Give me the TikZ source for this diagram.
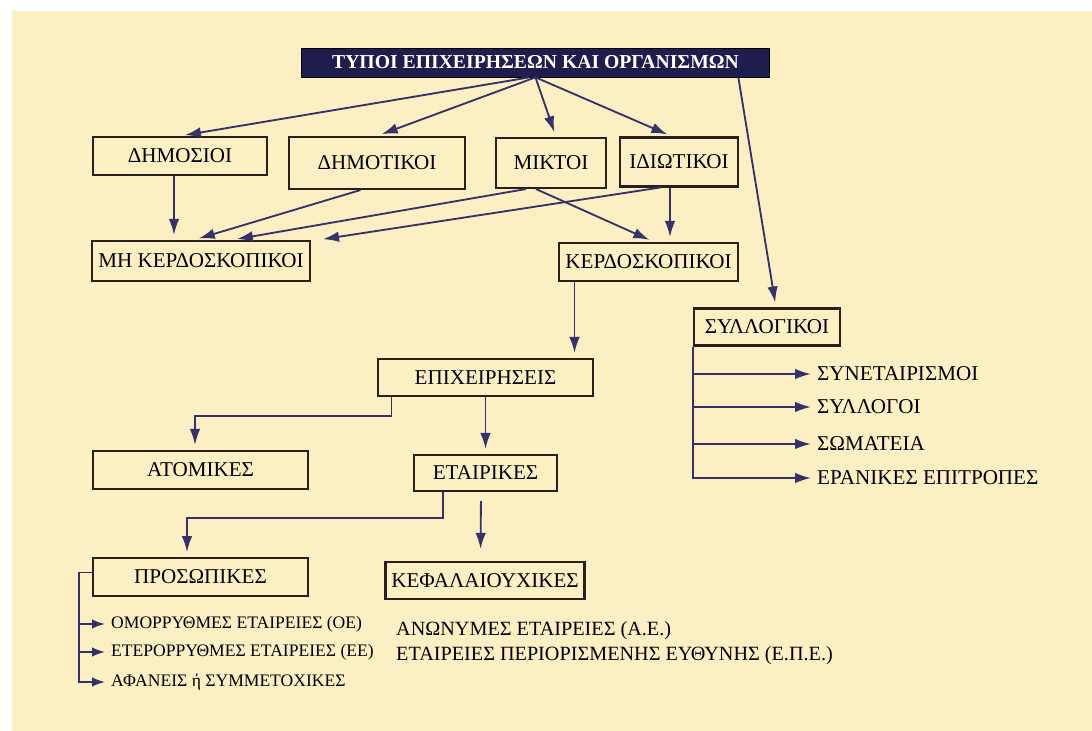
\documentclass[tikz,border=0pt]{standalone}
\usepackage{fontspec}
\setmainfont{Liberation Serif}
\usetikzlibrary{arrows.meta}

\definecolor{fundo}{RGB}{252,239,196}
\definecolor{azul}{RGB}{31,29,78}
\definecolor{linha}{RGB}{54,50,104}
\definecolor{borda}{RGB}{40,32,28}

\tikzset{
	caixa/.style={shape=rectangle, draw=borda, line width=1.2pt, align=center, font=\fontsize{12}{14}\selectfont},
	seta/.style={color=linha, line width=1.05pt},
	item/.style={anchor=west, font=\fontsize{12}{14}\selectfont},
	itempeq/.style={anchor=west, font=\fontsize{10}{12}\selectfont},
}

\begin{document}
\begin{tikzpicture}[>={Latex[length=3.2mm,width=2.1mm]}]
			\useasboundingbox (0,0) rectangle (21.84,-14.62);
			\fill[fundo] (0.24,-0.22) rectangle (21.84,-14.62);

			\node (z1)[shape=rectangle, draw=black, fill=azul, text=white, minimum width=9.36cm, minimum height=0.58cm, font=\bfseries\fontsize{11.2}{13}\selectfont]
			at (10.71,-1.25){ΤΥΠΟΙ ΕΠΙΧΕΙΡΗΣΕΩΝ ΚΑΙ ΟΡΓΑΝΙΣΜΩΝ};

			\node (z2)[caixa, minimum width=3.48cm, minimum height=0.76cm] at (3.60,-3.12){ΔΗΜΟΣΙΟΙ};
			\node (z3)[caixa, minimum width=3.52cm, minimum height=1.04cm] at (7.54,-3.26){ΔΗΜΟΤΙΚΟΙ};
			\node (z4)[caixa, minimum width=2.20cm, minimum height=1.00cm] at (11.02,-3.26){ΜΙΚΤΟΙ};
			\node (z5)[caixa, minimum width=2.36cm, minimum height=0.98cm] at (13.58,-3.24){ΙΔΙΩΤΙΚΟΙ};

			\node (z6)[caixa, minimum width=4.36cm, minimum height=0.80cm] at (4.02,-5.22){ΜΗ ΚΕΡΔΟΣΚΟΠΙΚΟΙ};
			\node (z7)[caixa, minimum width=3.58cm, minimum height=0.76cm] at (12.97,-5.24){ΚΕΡΔΟΣΚΟΠΙΚΟΙ};
			\node (z8)[caixa, minimum width=2.92cm, minimum height=0.74cm] at (15.34,-6.54){ΣΥΛΛΟΓΙΚΟΙ};

			\node (z9)[caixa, minimum width=4.30cm, minimum height=0.74cm] at (9.71,-7.55){ΕΠΙΧΕΙΡΗΣΕΙΣ};
			\node (z10)[caixa, minimum width=4.30cm, minimum height=0.76cm] at (4.01,-9.40){ΑΤΟΜΙΚΕΣ};
			\node (z11)[caixa, minimum width=2.86cm, minimum height=0.72cm] at (9.71,-9.46){ΕΤΑΙΡΙΚΕΣ};
			\node (z12)[caixa, minimum width=4.30cm, minimum height=0.75cm] at (4.01,-11.54){ΠΡΟΣΩΠΙΚΕΣ};
			\node (z13)[caixa, minimum width=3.60cm, minimum height=0.74cm] at (9.70,-11.61){ΚΕΦΑΛΑΙΟΥΧΙΚΕΣ};

			% syllogikoi
			\node (t1)[item] at (16.22,-7.48){ΣΥΝΕΤΑΙΡΙΣΜΟΙ};
			\node (t2)[item] at (16.22,-8.14){ΣΥΛΛΟΓΟΙ};
			\node (t3)[item] at (16.22,-8.88){ΣΩΜΑΤΕΙΑ};
			\node (t4)[item] at (16.22,-9.56){ΕΡΑΝΙΚΕΣ ΕΠΙΤΡΟΠΕΣ};

			% prosopikes / kefalaiouxikes
			\node (t5)[itempeq] at (2.10,-12.48){ΟΜΟΡΡΥΘΜΕΣ ΕΤΑΙΡΕΙΕΣ (ΟΕ)};
			\node (t6)[itempeq] at (2.10,-13.04){ΕΤΕΡΟΡΡΥΘΜΕΣ ΕΤΑΙΡΕΙΕΣ (ΕΕ)};
			\node (t7)[itempeq] at (2.10,-13.64){ΑΦΑΝΕΙΣ ή ΣΥΜΜΕΤΟΧΙΚΕΣ};
			\node (t8)[item, font=\fontsize{11.5}{13}\selectfont] at (7.80,-12.62){ΑΝΩΝΥΜΕΣ ΕΤΑΙΡΕΙΕΣ (Α.Ε.)};
			\node (t9)[item, font=\fontsize{11.5}{13}\selectfont] at (7.80,-13.12){ΕΤΑΙΡΕΙΕΣ ΠΕΡΙΟΡΙΣΜΕΝΗΣ ΕΥΘΥΝΗΣ (Ε.Π.Ε.)};

			\path[->, seta, shorten >=0.1cm] ([xshift=-0.12cm]z1.south) edge (z2.north);
			\path[->, seta, shorten >=0.1cm] (z1.south) edge (z3.north);
			\path[->, seta, shorten >=0.1cm] (z1.south) edge ([xshift=0.1cm]z4.north);
			\path[->, seta, shorten >=0.1cm] (z1.south) edge ([xshift=-0.14cm]z5.north);
			\path[->, seta, shorten >=0.1cm] ([xshift=-0.63cm]z1.south east) edge ([xshift=0.18cm]z8.north);

			\path[->, seta, shorten >=0.1cm] ([xshift=-0.12cm]z2.south) edge ([xshift=-0.12cm]z2.south |- z6.north);
			\path[->, seta, shorten >=0.1cm] ([xshift=-0.33cm]z3.south) edge ([xshift=2.06cm]z6.north west);
			\path[->, seta, shorten >=0.1cm] ([xshift=-0.5cm]z4.south) edge ([xshift=2.82cm]z6.north west);
			\path[->, seta, shorten >=0.1cm] ([xshift=-0.38cm]z5.south) edge ([xshift=0.14cm]z6.north east);
			\path[->, seta, shorten >=0.1cm] ([xshift=-0.3cm]z4.south) edge ([xshift=1.92cm]z7.north west);
			\path[->, seta, shorten >=0.1cm] ([xshift=-0.18cm]z5.south) edge ([xshift=-0.18cm]z5.south |- z7.north);

			\path[->, seta, shorten >=0.1cm] ([xshift=-1.48cm]z7.south) edge ([xshift=-1.48cm]z7.south |- z9.north);
			\draw[->, seta, shorten >=0.1cm] ([xshift=0.29cm]z9.south west) -- ++(0,-0.38) -| ([xshift=-0.11cm]z10.north);
			\path[->, seta, shorten >=0.1cm] (z9.south) edge (z11.north);
			\draw[->, seta, shorten >=0.1cm] ([xshift=0.6cm]z11.south west) -- ++(0,-0.52) -| ([xshift=-0.27cm]z12.north);
			\path[->, seta, shorten <=0.18cm, shorten >=0.24cm] ([xshift=-0.09cm]z11.south) edge ([xshift=-0.09cm]z13.north);

			\draw[->, seta] (z8.south west) |- (t4.west);
			\path[->, seta] (z8.south west |- t1.west) edge (t1.west);
			\path[->, seta] (z8.south west |- t2.west) edge (t2.west);
			\path[->, seta] (z8.south west |- t3.west) edge (t3.west);

			\coordinate (b1) at ([xshift=-0.26cm,yshift=0.09cm]z12.west);
			\draw[->, seta, >={Latex[length=2.6mm,width=1.9mm]}] ([yshift=0.09cm]z12.west) -- (b1) |- (t7.west);
			\path[->, seta, >={Latex[length=2.6mm,width=1.9mm]}] (b1 |- t5.west) edge (t5.west);
			\path[->, seta, >={Latex[length=2.6mm,width=1.9mm]}] (b1 |- t6.west) edge (t6.west);
\end{tikzpicture}
\end{document}
